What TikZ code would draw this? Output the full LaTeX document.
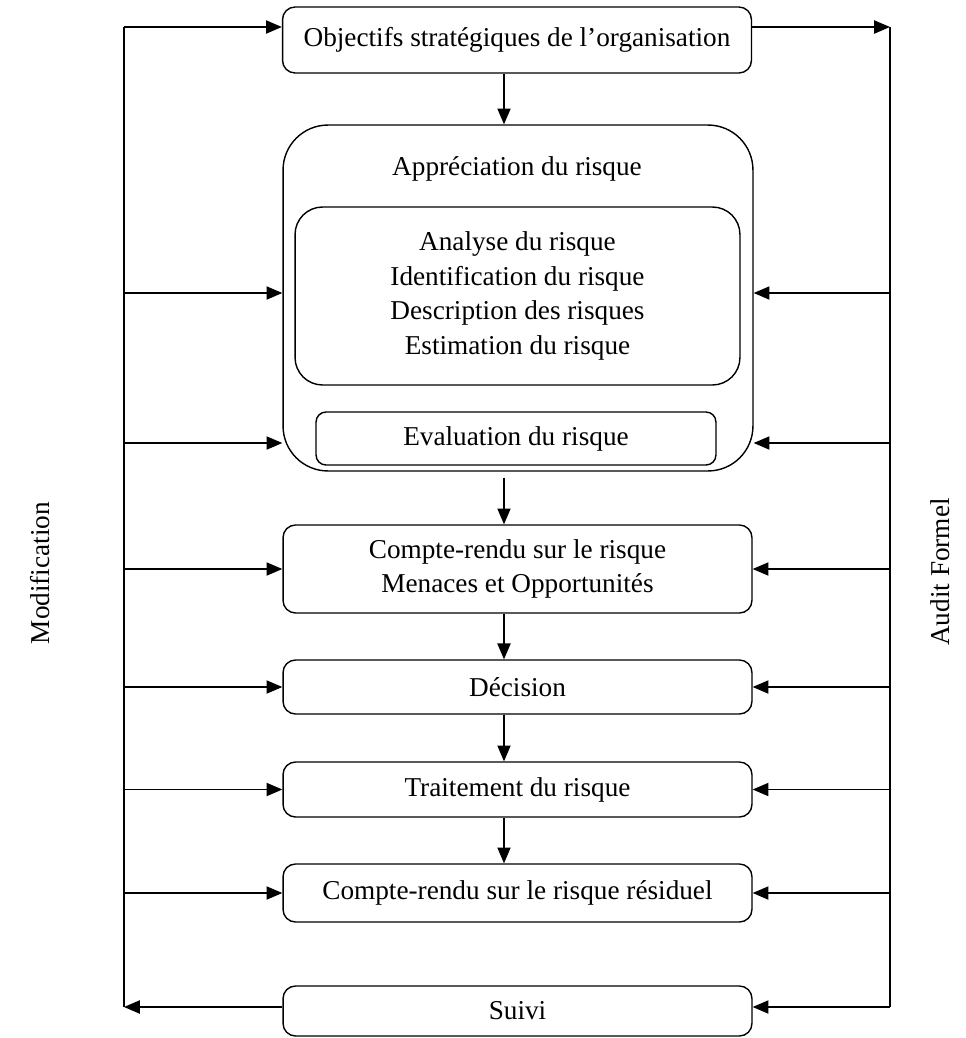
\documentclass[tikz,border=0pt]{standalone}
\usepackage{fontspec}
\setmainfont{Liberation Serif}
\usetikzlibrary{arrows.meta,positioning,calc}
\tikzset{
    stage/.style={
        rectangle,
        rounded corners=0.25cm,
        draw=black,
        line width=0.8pt,
        minimum width=9.38cm,
        minimum height=1.1cm,
        align=center,
    },
    bigstage/.style={
        stage,
        rounded corners=0.9cm,
        minimum width=9.4cm,
        minimum height=6.92cm,
    },
    flow/.style={
        draw,
        -{Triangle[length=9pt,width=7.5pt]},
        line width=0.8pt,
    },
    loopline/.style={
        draw,
        line width=0.8pt,
    },
    side/.style={
        rotate=90,
    },
    every node/.style={
        font=\fontsize{15.5}{19.8}\selectfont,
    },
}
\begin{document}
\begin{tikzpicture}[x=0.02cm,y=-0.02cm]
    \useasboundingbox (0,0) rectangle (965,1038);

    % main chain
    \node [stage, minimum height=1.32cm] (obj) at (517,40) {Objectifs stratégiques de l’organisation};
    \node [bigstage] (appr) at (518,298) {};
    \node (apprtxt) at (517,169) {Appréciation du risque};
    \node [stage, rounded corners=0.55cm, minimum width=8.9cm, minimum height=3.56cm] (anal) at (517.5,296)
        {Analyse du risque\\Identification du risque\\Description des risques\\Estimation du risque};
    \node [stage, rounded corners=0.2cm, minimum width=8cm, minimum height=1.06cm] (eval) at (516,438.5) {Evaluation du risque};
    \node [stage, minimum height=1.76cm] (cr) at (517.5,569) {Compte-rendu sur le risque\\Menaces et Opportunités};
    \node [stage, minimum height=1.08cm] (dec) at (517.5,687) {Décision};
    \node [stage] (trait) at (517.5,789.5) {Traitement du risque};
    \node [stage, minimum height=1.16cm] (resid) at (517.5,893) {Compte-rendu sur le risque résiduel};
    \node [stage, minimum height=1cm] (suivi) at (517.5,1011) {Suivi};

    \node [side] (modif) at (40,573) {Modification};
    \node [side] (audit) at (940,572) {Audit Formel};

    \coordinate (mid) at (504,0);
    \coordinate (Ltop) at (124,27);
    \coordinate (Lbot) at (124,1007);
    \coordinate (Rtop) at (890,27);
    \coordinate (Rbot) at (890,1007);

    % downward arrows
    \draw [flow] (obj.south -| mid) -- (appr.north -| mid);
    \draw [flow] (appr.south -| mid) ++(0,6) -- (cr.north -| mid);
    \draw [flow] (cr.south -| mid) -- (dec.north -| mid);
    \draw [flow] (dec.south -| mid) -- (trait.north -| mid);
    \draw [flow] (trait.south -| mid) -- (resid.north -| mid);

    % side loops
    \draw [loopline] (Ltop) -- (Lbot);
    \draw [loopline] (Rtop) -- (Rbot);
    \draw [flow] (Ltop) -- (Ltop -| obj.west);
    \draw [flow] (obj.east |- Rtop) -- (Rtop);
    \foreach \y in {293,443} {
        \draw [flow] (124,\y) -- (appr.west |- 0,\y);
        \draw [flow] (890,\y) -- (appr.east |- 0,\y);
    }
    \foreach \n in {cr,dec,trait,resid} {
        \draw [flow] (Ltop |- \n.west) -- (\n.west);
        \draw [flow] (Rtop |- \n.east) -- (\n.east);
    }
    \draw [flow] (suivi.west |- Lbot) -- (Lbot);
    \draw [flow] (Rbot) -- (suivi.east |- Rbot);
\end{tikzpicture}
\end{document}
